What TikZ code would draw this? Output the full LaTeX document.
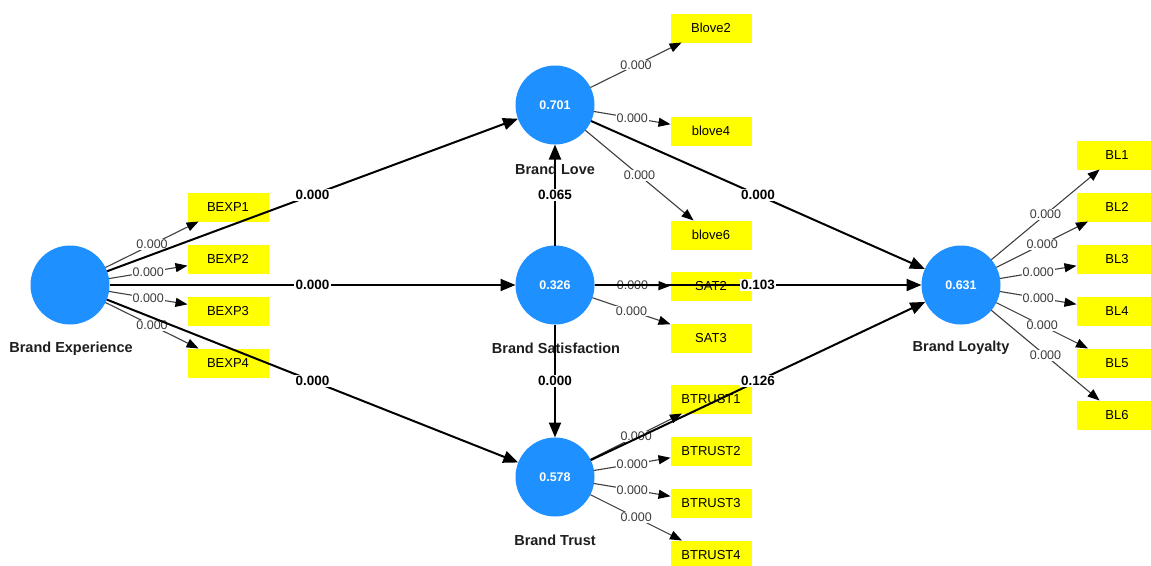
\documentclass[tikz,border=0pt]{standalone}
\usepackage{fontspec}
\setmainfont{Liberation Sans}
\usetikzlibrary{arrows.meta}
\definecolor{lvblue}{RGB}{30,144,255}
\definecolor{indyellow}{RGB}{255,255,0}
\definecolor{loadgray}{RGB}{64,64,64}
\definecolor{labgray}{RGB}{60,60,60}
\definecolor{namecol}{RGB}{30,30,30}
\begin{document}
\begin{tikzpicture}[x=1pt,y=-1pt,
  lv/.style={circle, fill=lvblue, minimum size=79pt, inner sep=0pt, outer sep=0pt, text=white, font=\fontsize{12.5}{15}\selectfont\bfseries},
  ind/.style={rectangle, fill=indyellow, minimum width=81pt, minimum height=29pt, inner sep=0pt, outer sep=0pt, font=\fontsize{13}{15}\selectfont},
  lvname/.style={text=namecol, inner sep=0pt, font=\fontsize{14.5}{17}\selectfont\bfseries},
  load/.style={draw=loadgray, line width=1.1pt, -{Triangle[length=12pt,width=9pt,color=black]}},
  loadlab/.style={fill=white, inner sep=1pt, text=labgray, font=\fontsize{12.5}{14}\selectfont},
  spath/.style={draw=black, line width=2pt, -{Triangle[length=15pt,width=12pt]}},
  splab/.style={fill=white, inner sep=1.5pt, text=black, font=\fontsize{13.5}{15}\selectfont\bfseries}
]
\useasboundingbox (0,0) rectangle (1151,565);
\clip (0,0) rectangle (1151,565);
\fill[white] (0,0) rectangle (1151,565);

% construct names
\node[lvname] (BEn) at (71,349) {Brand Experience};
\node[lvname] (BLVn) at (555,169) {Brand Love};
\node[lvname] (BSn) at (556,348) {Brand Satisfaction};
\node[lvname] (BTn) at (555,540) {Brand Trust};
\node[lvname] (BLYn) at (961,348) {Brand Loyalty};

% latent variables
\node[lv] (BE) at (70,285) {};
\node[lv] (BLV) at (555,105) {0.701};
\node[lv] (BS) at (555,285) {0.326};
\node[lv] (BT) at (555,477) {0.578};
\node[lv] (BLY) at (961,285) {0.631};

% indicators
\node[ind] (BEXP1) at (228,207) {BEXP1};
\node[ind] (BEXP2) at (228,259) {BEXP2};
\node[ind] (BEXP3) at (228,311) {BEXP3};
\node[ind] (BEXP4) at (228,363) {BEXP4};
\node[ind] (Blove2) at (711,28) {Blove2};
\node[ind] (blove4) at (711,131) {blove4};
\node[ind] (blove6) at (711,235) {blove6};
\node[ind] (SAT2) at (711,286) {SAT2};
\node[ind] (SAT3) at (711,338) {SAT3};
\node[ind] (BTRUST1) at (711,399) {BTRUST1};
\node[ind] (BTRUST2) at (711,451) {BTRUST2};
\node[ind] (BTRUST3) at (711,503) {BTRUST3};
\node[ind] (BTRUST4) at (711,555) {BTRUST4};
\node[ind] (BL1) at (1117,155) {BL1};
\node[ind] (BL2) at (1117,207) {BL2};
\node[ind] (BL3) at (1117,259) {BL3};
\node[ind] (BL4) at (1117,311) {BL4};
\node[ind] (BL5) at (1117,363) {BL5};
\node[ind] (BL6) at (1117,415) {BL6};

% outer loadings
\foreach \t in {BEXP1,BEXP2,BEXP3,BEXP4}
  \draw[load] (BE) -- node[loadlab]{0.000} (\t);
\foreach \t in {Blove2,blove4,blove6}
  \draw[load] (BLV) -- node[loadlab]{0.000} (\t);
\foreach \t in {SAT2,SAT3}
  \draw[load] (BS) -- node[loadlab]{0.000} (\t);
\foreach \t in {BTRUST1,BTRUST2,BTRUST3,BTRUST4}
  \draw[load] (BT) -- node[loadlab]{0.000} (\t);
\foreach \t in {BL1,BL2,BL3,BL4,BL5,BL6}
  \draw[load] (BLY) -- node[loadlab]{0.000} (\t);

% structural paths
\draw[spath] (BE) -- node[splab]{0.000} (BLV);
\draw[spath] (BE) -- node[splab]{0.000} (BS);
\draw[spath] (BE) -- node[splab]{0.000} (BT);
\draw[spath] (BS) -- node[splab]{0.065} (BLV);
\draw[spath] (BS) -- node[splab]{0.000} (BT);
\draw[spath] (BLV) -- node[splab]{0.000} (BLY);
\draw[spath] (BS) -- node[splab]{0.103} (BLY);
\draw[spath] (BT) -- node[splab]{0.126} (BLY);
\end{tikzpicture}
\end{document}
